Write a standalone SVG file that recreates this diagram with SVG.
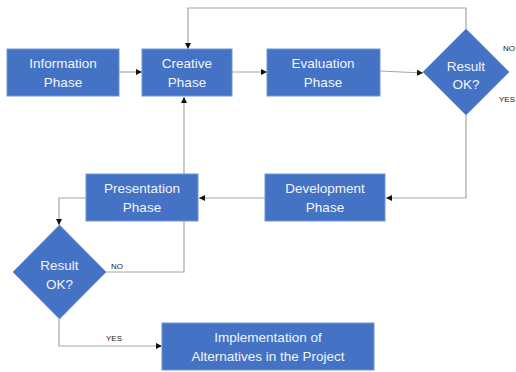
<svg xmlns="http://www.w3.org/2000/svg" width="516" height="372" viewBox="0 0 516 372">
<style>
.box{fill:#4472C4;stroke:#6F95D6;stroke-width:1}
.t{font-family:"Liberation Sans",Arial,sans-serif;font-size:13.5px;fill:#F2F5FB;text-anchor:middle}
.c{fill:none;stroke:#A6A6A6;stroke-width:1.2}
.l{font-family:"Liberation Sans",Arial,sans-serif;font-size:8px;fill:#222}
</style>
<defs>
<marker id="a" viewBox="0 0 6 6" refX="6" refY="3" markerWidth="6" markerHeight="6" orient="auto" markerUnits="userSpaceOnUse">
<path d="M0,0L6,3L0,6z" fill="#111"/>
</marker>
</defs>
<rect width="516" height="372" fill="#fff"/>
<g id="connectors">
<path class="c" d="M119,72H142" marker-end="url(#a)"/>
<path class="c" d="M232,72H267" marker-end="url(#a)"/>
<path class="c" d="M380,71L423,73" marker-end="url(#a)"/>
<path class="c" d="M466,29V8H188V49" marker-end="url(#a)"/>
<path class="c" d="M466,115V198H386" marker-end="url(#a)"/>
<path class="c" d="M265,198H199" marker-end="url(#a)"/>
<path class="c" d="M184,174V97" marker-end="url(#a)"/>
<path class="c" d="M86,198H59V225" marker-end="url(#a)"/>
<path class="c" d="M106,272H184V221"/>
<path class="c" d="M59,319V346H162" marker-end="url(#a)"/>
<text class="l" x="503" y="51">NO</text>
<text class="l" x="499" y="102">YES</text>
<text class="l" x="111" y="269">NO</text>
<text class="l" x="106" y="341">YES</text>
</g>
<g id="information">
<rect class="box" x="7" y="49" width="112" height="47"/>
<text class="t" x="63" y="68">Information</text>
<text class="t" x="63" y="87">Phase</text>
</g>
<g id="creative">
<rect class="box" x="142" y="49" width="90" height="47"/>
<text class="t" x="187" y="68">Creative</text>
<text class="t" x="187" y="87">Phase</text>
</g>
<g id="evaluation">
<rect class="box" x="267" y="49" width="113" height="47"/>
<text class="t" x="323" y="68">Evaluation</text>
<text class="t" x="323" y="87">Phase</text>
</g>
<g id="decision1">
<path class="box" d="M466,29L509,72L466,115L423,72Z"/>
<text class="t" x="466" y="71">Result</text>
<text class="t" x="466" y="89">OK?</text>
</g>
<g id="development">
<rect class="box" x="265" y="174" width="120" height="47"/>
<text class="t" x="325" y="193">Development</text>
<text class="t" x="325" y="212">Phase</text>
</g>
<g id="presentation">
<rect class="box" x="86" y="174" width="112" height="47"/>
<text class="t" x="142" y="193">Presentation</text>
<text class="t" x="142" y="212">Phase</text>
</g>
<g id="decision2">
<path class="box" d="M59.5,225L106,272L59.5,319L13,272Z"/>
<text class="t" x="59.5" y="270">Result</text>
<text class="t" x="59.5" y="289">OK?</text>
</g>
<g id="implementation">
<rect class="box" x="162" y="323" width="212" height="47"/>
<text class="t" x="268" y="342">Implementation of</text>
<text class="t" x="268" y="361">Alternatives in the Project</text>
</g>
</svg>
